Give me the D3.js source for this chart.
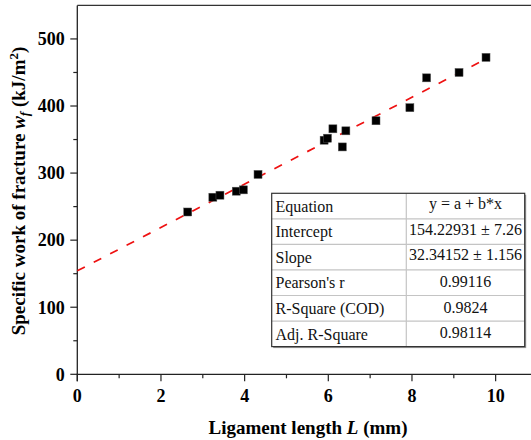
<!DOCTYPE html>
<html>
<head>
<meta charset="utf-8">
<script src="https://cdn.jsdelivr.net/npm/d3@7"></script>
<style>
  body { margin: 0; background: #fff; }
  svg { display: block; font-family: "Liberation Serif", "Times New Roman", serif; }
</style>
</head>
<body>
<div id="viz"></div>
<script>
// measured points: ligament length L (mm) vs specific work of fracture (kJ/m2)
let lengths = [2.64, 3.24, 3.41, 3.80, 3.97, 4.32, 5.90, 5.98, 6.11, 6.335, 6.42, 7.14, 7.95, 8.35, 9.125, 9.77];
let works = [242, 264, 267, 273, 275, 298, 349, 352, 366, 339, 363, 378, 397.5, 442, 450, 472.5];

// linear fit
let intercept = 154.22931;
let slope = 32.34152;

let xTicks = [0, 2, 4, 6, 8, 10];
let yTicks = [0, 100, 200, 300, 400, 500];

let tableLabels = ["Equation", "Intercept", "Slope", "Pearson's r", "R-Square (COD)", "Adj. R-Square"];
let tableValues = ["y = a + b*x", "154.22931 \u00b1 7.26", "32.34152 \u00b1 1.156", "0.99116", "0.9824", "0.98114"];

let width = 531, height = 440;

let svg = d3.select("#viz").append("svg")
    .attr("width", width)
    .attr("height", height);

let x = d3.scaleLinear().domain([0, 10.85]).range([77.3, 531.2]);
let y = d3.scaleLinear().domain([0, 550]).range([374.3, 5.4]);

let axisColor = "#222";

// top frame
svg.append("line")
    .attr("x1", x(0)).attr("x2", width)
    .attr("y1", y(550)).attr("y2", y(550))
    .attr("stroke", "#333").attr("stroke-width", 1.4);

// x axis
let xAxis = svg.append("g").attr("transform", "translate(0," + y(0) + ")");
xAxis.append("line")
    .attr("x1", x(0) - 0.7).attr("x2", width)
    .attr("stroke", axisColor).attr("stroke-width", 1.3);
xAxis.selectAll(".minor")
    .data(d3.range(1, 11, 2))
    .enter().append("line")
    .attr("x1", d => x(d)).attr("x2", d => x(d))
    .attr("y1", 0).attr("y2", 4)
    .attr("stroke", axisColor).attr("stroke-width", 1.2);
xAxis.selectAll(".major")
    .data(xTicks)
    .enter().append("line")
    .attr("x1", d => x(d)).attr("x2", d => x(d))
    .attr("y1", 0).attr("y2", 7)
    .attr("stroke", axisColor).attr("stroke-width", 1.2);
xAxis.selectAll("text")
    .data(xTicks)
    .enter().append("text")
    .attr("x", d => x(d))
    .attr("y", 27.5)
    .attr("text-anchor", "middle")
    .attr("font-size", "18px")
    .attr("font-weight", "bold")
    .text(d => d);

// y axis
let yAxis = svg.append("g").attr("transform", "translate(" + x(0) + ",0)");
yAxis.append("line")
    .attr("y1", y(550)).attr("y2", y(0) + 7)
    .attr("stroke", axisColor).attr("stroke-width", 1.3);
yAxis.selectAll(".minor")
    .data(d3.range(50, 550, 100))
    .enter().append("line")
    .attr("y1", d => y(d)).attr("y2", d => y(d))
    .attr("x1", 0).attr("x2", -4)
    .attr("stroke", axisColor).attr("stroke-width", 1.2);
yAxis.selectAll(".major")
    .data(yTicks)
    .enter().append("line")
    .attr("y1", d => y(d)).attr("y2", d => y(d))
    .attr("x1", 0).attr("x2", -7)
    .attr("stroke", axisColor).attr("stroke-width", 1.2);
yAxis.selectAll("text")
    .data(yTicks)
    .enter().append("text")
    .attr("x", -12.5)
    .attr("y", d => y(d) + 6.3)
    .attr("text-anchor", "end")
    .attr("font-size", "18px")
    .attr("font-weight", "bold")
    .text(d => d);

// axis titles
let xt = svg.append("text")
    .attr("x", 308)
    .attr("y", 434)
    .attr("text-anchor", "middle")
    .attr("font-size", "19px")
    .attr("font-weight", "bold");
xt.append("tspan").text("Ligament length ");
xt.append("tspan").attr("font-style", "italic").text("L");
xt.append("tspan").text(" (mm)");

let yt = svg.append("text")
    .attr("transform", "translate(25,191) rotate(-90)")
    .attr("text-anchor", "middle")
    .attr("font-size", "19px")
    .attr("font-weight", "bold");
yt.append("tspan").text("Specific work of fracture ");
yt.append("tspan").attr("font-style", "italic").text("w");
yt.append("tspan").attr("font-style", "italic").attr("font-size", "13px").attr("dy", 4).text("f");
yt.append("tspan").attr("dy", -4).text(" (kJ/m");
yt.append("tspan").attr("font-size", "13px").attr("dy", -7).text("2");
yt.append("tspan").attr("dy", 7).text(")");

// fit line
let fitX = [0, d3.max(lengths)];
svg.append("path")
    .datum(fitX)
    .attr("d", d3.line().x(d => x(d)).y(d => y(intercept + slope * d)))
    .attr("fill", "none")
    .attr("stroke", "#ee1111")
    .attr("stroke-width", 1.7)
    .attr("stroke-dasharray", "8.5,10");

// points
let pts = lengths.map((l, i) => ({l: l, w: works[i]}));
let s = 8;
svg.selectAll(".pt")
    .data(pts)
    .enter().append("rect")
    .attr("class", "pt")
    .attr("x", d => x(d.l) - s / 2)
    .attr("y", d => y(d.w) - s / 2)
    .attr("width", s)
    .attr("height", s)
    .attr("fill", "#000")
    .attr("stroke", "#555")
    .attr("stroke-width", 0.5);

// stats table
let tx0 = 271.7, tx1 = 406.3, tx2 = 524.7, ty0 = 193.3, rowH = 25.55;
let tab = svg.append("g");
tab.append("rect")
    .attr("x", tx0 + 1.5).attr("y", ty0 + 1.5)
    .attr("width", tx2 - tx0).attr("height", rowH * tableLabels.length)
    .attr("fill", "#999");
tab.append("rect")
    .attr("x", tx0).attr("y", ty0)
    .attr("width", tx2 - tx0).attr("height", rowH * tableLabels.length)
    .attr("fill", "#fff");
tab.selectAll(".hline")
    .data(d3.range(1, tableLabels.length))
    .enter().append("line")
    .attr("x1", tx0).attr("x2", tx2)
    .attr("y1", d => ty0 + d * rowH).attr("y2", d => ty0 + d * rowH)
    .attr("stroke", "#c4c4c4").attr("stroke-width", 1.2);
tab.append("line")
    .attr("x1", tx1).attr("x2", tx1)
    .attr("y1", ty0).attr("y2", ty0 + rowH * tableLabels.length)
    .attr("stroke", "#c4c4c4").attr("stroke-width", 1.2);
tab.append("rect")
    .attr("x", tx0).attr("y", ty0)
    .attr("width", tx2 - tx0).attr("height", rowH * tableLabels.length)
    .attr("fill", "none")
    .attr("stroke", "#333").attr("stroke-width", 1.2);
tab.selectAll(".lab")
    .data(tableLabels)
    .enter().append("text")
    .attr("x", tx0 + 3.8)
    .attr("y", (d, i) => ty0 + i * rowH + 18.5)
    .attr("font-size", "16px")
    .attr("fill", "#111")
    .text(d => d);
tab.selectAll(".val")
    .data(tableValues)
    .enter().append("text")
    .attr("x", (tx1 + tx2) / 2)
    .attr("y", (d, i) => ty0 + i * rowH + (i < 3 ? 16 : 17))
    .attr("text-anchor", "middle")
    .attr("font-size", "16px")
    .attr("fill", "#111")
    .text(d => d);
</script>
</body>
</html>
